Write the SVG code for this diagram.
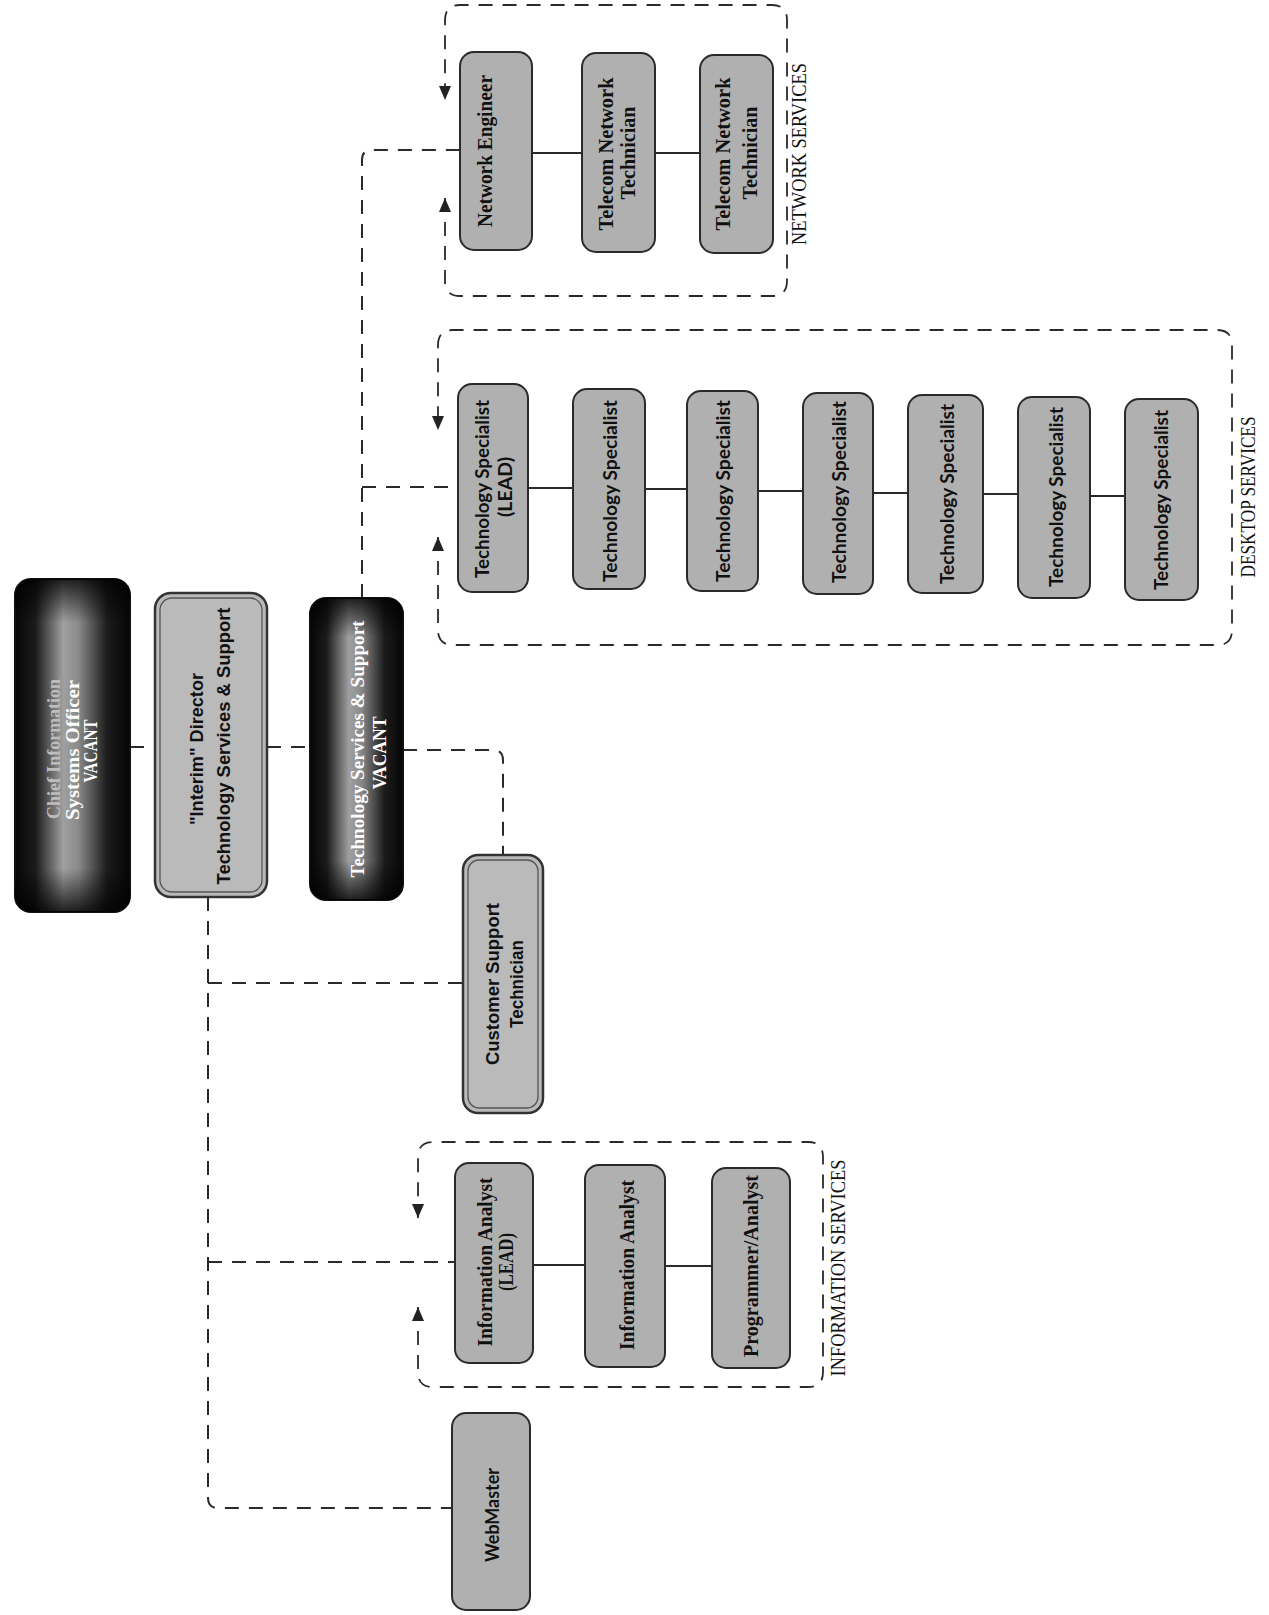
<svg xmlns="http://www.w3.org/2000/svg" width="1269" height="1615" viewBox="0 0 1269 1615">
<defs>
<linearGradient id="tube" x1="0" y1="0" x2="1" y2="0">
<stop offset="0" stop-color="#050505"/>
<stop offset="0.18" stop-color="#1c1c1c"/>
<stop offset="0.42" stop-color="#a0a0a0"/>
<stop offset="0.55" stop-color="#8a8a8a"/>
<stop offset="0.8" stop-color="#1c1c1c"/>
<stop offset="1" stop-color="#050505"/>
</linearGradient>
<linearGradient id="ends" x1="0" y1="0" x2="0" y2="1">
<stop offset="0" stop-color="#000" stop-opacity="0.8"/>
<stop offset="0.13" stop-color="#000" stop-opacity="0"/>
<stop offset="0.87" stop-color="#000" stop-opacity="0"/>
<stop offset="1" stop-color="#000" stop-opacity="0.8"/>
</linearGradient>
<marker id="arr" viewBox="0 0 14 12" refX="14" refY="6" markerWidth="14" markerHeight="12" markerUnits="userSpaceOnUse" orient="auto-start-reverse">
<path d="M0,0 L14,6 L0,12 z" fill="#222"/>
</marker>
<style>
.box{fill:#b0b0b0;stroke:#2a2a2a;stroke-width:2}
.dbl{fill:#bababa;stroke:#333;stroke-width:2.5}
.dbl-in{fill:none;stroke:#555;stroke-width:1.3}
.dark{stroke:#111;stroke-width:2}
.dash{fill:none;stroke:#2a2a2a;stroke-width:2;stroke-dasharray:14 10}
.grpbox{fill:none;stroke:#2a2a2a;stroke-width:1.8;stroke-dasharray:14 10}
.solid{fill:none;stroke:#2a2a2a;stroke-width:2}
text{text-anchor:middle;dominant-baseline:central;font-size:18px}
.sans{font-family:"Liberation Sans",Arial,sans-serif;font-weight:bold;fill:#111;font-size:19px}
.serif{font-family:"Liberation Serif","Times New Roman",serif;font-weight:bold;fill:#111;font-size:20px}
.cal{font-family:Lato,"Liberation Sans",sans-serif;font-weight:bold;fill:#111;font-size:19px}
.wht{font-family:"Liberation Serif","Times New Roman",serif;font-weight:bold;fill:#fff;font-size:19px}
.grp{font-family:"Liberation Serif","Times New Roman",serif;font-size:22px;fill:#111}
</style>
</defs>
<rect width="1269" height="1615" fill="#fff"/>

<g id="connectors">
<path class="dash" d="M130,747 H155"/>
<path class="dash" d="M267,747 H310"/>
<path class="dash" d="M403,750 H493 Q503,750 503,760 V855"/>
<path class="dash" d="M362,598 V160 Q362,150 372,150 H460"/>
<path class="dash" d="M362,487 H458"/>
<path class="dash" d="M208,897 V1498 Q208,1508 218,1508 H452"/>
<path class="dash" d="M208,983 H463"/>
<path class="dash" d="M208,1262 H455"/>
<path class="solid" d="M532,153 H582 M655,153 H700"/>
<path class="solid" d="M528,488 H573 M645,489 H687 M758,491 H803 M873,493 H908 M983,494 H1018 M1090,496 H1125"/>
<path class="solid" d="M533,1265 H585 M665,1266 H712"/>
</g>

<g id="network-services">
<path class="grpbox" d="M445,198 V281 Q445,296 460,296 H772 Q787,296 787,281 V20 Q787,5 772,5 H460 Q445,5 445,20 V100" marker-start="url(#arr)" marker-end="url(#arr)"/>
<text class="grp" transform="translate(798,154) rotate(-90)" textLength="182" lengthAdjust="spacingAndGlyphs">NETWORK SERVICES</text>
</g>
<g id="desktop-services">
<path class="grpbox" d="M438,537 V630 Q438,645 453,645 H1217 Q1232,645 1232,630 V345 Q1232,330 1217,330 H453 Q438,330 438,345 V430" marker-start="url(#arr)" marker-end="url(#arr)"/>
<text class="grp" transform="translate(1247,497) rotate(-90)" textLength="161" lengthAdjust="spacingAndGlyphs">DESKTOP SERVICES</text>
</g>
<g id="information-services">
<path class="grpbox" d="M418,1307 V1372 Q418,1387 433,1387 H808 Q823,1387 823,1372 V1157 Q823,1142 808,1142 H433 Q418,1142 418,1157 V1218" marker-start="url(#arr)" marker-end="url(#arr)"/>
<text class="grp" transform="translate(837,1268) rotate(-90)" textLength="217" lengthAdjust="spacingAndGlyphs">INFORMATION SERVICES</text>
</g>

<g id="cio">
<rect x="15" y="579" width="115" height="333" rx="16" fill="url(#tube)" class="dark"/>
<rect x="15" y="579" width="115" height="333" rx="16" fill="url(#ends)"/>
<text class="wht" style="fill:#bdbdbd" transform="translate(53,749) rotate(-90)" textLength="140" lengthAdjust="spacingAndGlyphs">Chief Information</text>
<text class="wht" transform="translate(72,750) rotate(-90)" textLength="140" lengthAdjust="spacingAndGlyphs">Systems Officer</text>
<text class="wht" transform="translate(90,751) rotate(-90)" textLength="63" lengthAdjust="spacingAndGlyphs">VACANT</text>
</g>

<g id="director">
<rect x="155" y="593" width="112" height="304" rx="16" class="dbl"/>
<rect x="160" y="598" width="102" height="294" rx="12" class="dbl-in"/>
<text class="sans" transform="translate(196,749) rotate(-90)" textLength="152" lengthAdjust="spacingAndGlyphs">"Interim" Director</text>
<text class="sans" transform="translate(223,746) rotate(-90)" textLength="277" lengthAdjust="spacingAndGlyphs">Technology Services &amp; Support</text>
</g>

<g id="tech-services-manager">
<rect x="310" y="598" width="93" height="302" rx="16" fill="url(#tube)" class="dark"/>
<rect x="310" y="598" width="93" height="302" rx="16" fill="url(#ends)"/>
<text class="wht" transform="translate(357,749) rotate(-90)" textLength="257" lengthAdjust="spacingAndGlyphs">Technology Services &amp; Support</text>
<text class="wht" transform="translate(379,753) rotate(-90)" textLength="73" lengthAdjust="spacingAndGlyphs">VACANT</text>
</g>

<g id="customer-support">
<rect x="463" y="855" width="80" height="258" rx="15" class="dbl"/>
<rect x="468" y="860" width="70" height="248" rx="11" class="dbl-in"/>
<text class="sans" transform="translate(492,984) rotate(-90)" textLength="162" lengthAdjust="spacingAndGlyphs">Customer Support</text>
<text class="sans" transform="translate(516,984) rotate(-90)" textLength="88" lengthAdjust="spacingAndGlyphs">Technician</text>
</g>

<g id="network-engineer">
<rect x="460" y="52" width="72" height="198" rx="14" class="box"/>
<text class="serif" transform="translate(485,151) rotate(-90)" textLength="152" lengthAdjust="spacingAndGlyphs">Network Engineer</text>
</g>
<g id="telecom-1">
<rect x="582" y="53" width="73" height="199" rx="14" class="box"/>
<text class="serif" transform="translate(606,154) rotate(-90)" textLength="153" lengthAdjust="spacingAndGlyphs">Telecom Network</text>
<text class="serif" transform="translate(628,153) rotate(-90)" textLength="93" lengthAdjust="spacingAndGlyphs">Technician</text>
</g>
<g id="telecom-2">
<rect x="700" y="55" width="73" height="198" rx="14" class="box"/>
<text class="serif" transform="translate(723,154) rotate(-90)" textLength="153" lengthAdjust="spacingAndGlyphs">Telecom Network</text>
<text class="serif" transform="translate(750,153) rotate(-90)" textLength="93" lengthAdjust="spacingAndGlyphs">Technician</text>
</g>

<g id="tech-specialist-lead">
<rect x="458" y="384" width="70" height="208" rx="14" class="box"/>
<text class="cal" transform="translate(481,489) rotate(-90)" textLength="178" lengthAdjust="spacingAndGlyphs">Technology Specialist</text>
<text class="cal" transform="translate(504,487) rotate(-90)" textLength="60" lengthAdjust="spacingAndGlyphs">(LEAD)</text>
</g>
<g id="tech-specialist-2">
<rect x="573" y="389" width="72" height="200" rx="14" class="box"/>
<text class="cal" transform="translate(609,491) rotate(-90)" textLength="182" lengthAdjust="spacingAndGlyphs">Technology Specialist</text>
</g>
<g id="tech-specialist-3">
<rect x="687" y="391" width="71" height="200" rx="14" class="box"/>
<text class="cal" transform="translate(722,491) rotate(-90)" textLength="182" lengthAdjust="spacingAndGlyphs">Technology Specialist</text>
</g>
<g id="tech-specialist-4">
<rect x="803" y="393" width="70" height="201" rx="14" class="box"/>
<text class="cal" transform="translate(838,492) rotate(-90)" textLength="182" lengthAdjust="spacingAndGlyphs">Technology Specialist</text>
</g>
<g id="tech-specialist-5">
<rect x="908" y="395" width="75" height="198" rx="14" class="box"/>
<text class="cal" transform="translate(946,494) rotate(-90)" textLength="180" lengthAdjust="spacingAndGlyphs">Technology Specialist</text>
</g>
<g id="tech-specialist-6">
<rect x="1018" y="397" width="72" height="201" rx="14" class="box"/>
<text class="cal" transform="translate(1055,497) rotate(-90)" textLength="180" lengthAdjust="spacingAndGlyphs">Technology Specialist</text>
</g>
<g id="tech-specialist-7">
<rect x="1125" y="399" width="73" height="201" rx="14" class="box"/>
<text class="cal" transform="translate(1160,500) rotate(-90)" textLength="180" lengthAdjust="spacingAndGlyphs">Technology Specialist</text>
</g>

<g id="info-analyst-lead">
<rect x="455" y="1163" width="78" height="200" rx="14" class="box"/>
<text class="serif" transform="translate(485,1262) rotate(-90)" textLength="169" lengthAdjust="spacingAndGlyphs">Information Analyst</text>
<text class="serif" transform="translate(506,1262) rotate(-90)" textLength="58" lengthAdjust="spacingAndGlyphs">(LEAD)</text>
</g>
<g id="info-analyst">
<rect x="585" y="1165" width="80" height="202" rx="14" class="box"/>
<text class="serif" transform="translate(627,1265) rotate(-90)" textLength="170" lengthAdjust="spacingAndGlyphs">Information Analyst</text>
</g>
<g id="programmer-analyst">
<rect x="712" y="1168" width="78" height="200" rx="14" class="box"/>
<text class="serif" transform="translate(751,1266) rotate(-90)" textLength="182" lengthAdjust="spacingAndGlyphs">Programmer/Analyst</text>
</g>

<g id="webmaster">
<rect x="452" y="1413" width="78" height="197" rx="14" class="box"/>
<text class="cal" transform="translate(491,1515) rotate(-90)" textLength="94" lengthAdjust="spacingAndGlyphs">WebMaster</text>
</g>
</svg>
